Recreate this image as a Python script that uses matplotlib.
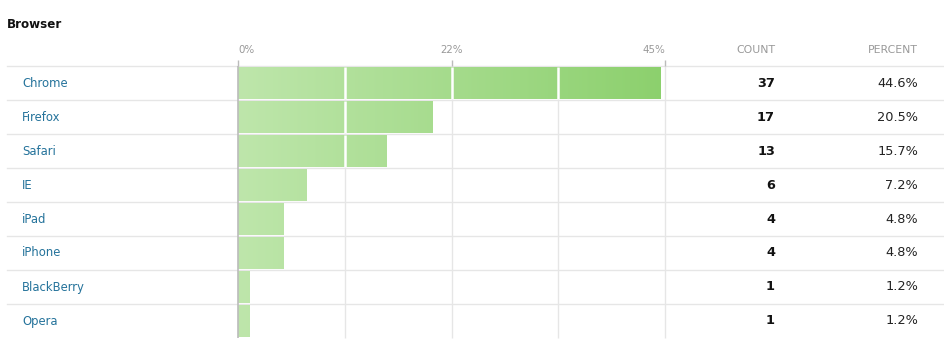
import numpy as np
import matplotlib.pyplot as plt
from matplotlib.colors import LinearSegmentedColormap
from matplotlib.transforms import blended_transform_factory

# data
browsers = ["Chrome", "Firefox", "Safari", "IE", "iPad", "iPhone", "BlackBerry", "Opera"]
counts = [37, 17, 13, 6, 4, 4, 1, 1]
tick_pos = [0, 22.5, 45]
tick_labels = ["0%", "22%", "45%"]
grid_pos = [11.25, 22.5, 33.75, 45]

total = sum(counts)
percents = [c / total * 100 for c in counts]

W, H = 944, 353
fig = plt.figure(figsize=(W / 100, H / 100), dpi=100)
plt.rcParams['font.family'] = ['DejaVu Sans']

# axes placed in pixel terms: x 238..665, y 66..338
ax = fig.add_axes([238 / W, (H - 338) / H, 427 / W, 272 / H])
ax.set_xlim(0, 45)
ax.set_ylim(len(browsers), 0)
ax.axis('off')

green = LinearSegmentedColormap.from_list('g', ['#bee6ab', '#8cd06d'])
grad = np.linspace(0, 1, 256).reshape(1, -1)

y = np.arange(len(browsers)) + 0.5
bars = ax.barh(y, percents, height=0.92, color='none', zorder=2)
for b in bars:
    im = ax.imshow(grad, cmap=green, aspect='auto', extent=[0, 45, len(browsers), 0], zorder=2)
    im.set_clip_path(b)

# white gaps where gridlines cross bars
for yi, p in zip(y, percents):
    xs = [g for g in grid_pos if g < p]
    ax.vlines(xs, yi - 0.46, yi + 0.46, colors='white', lw=1.8, zorder=3)

# gridlines
ax.vlines(grid_pos, 0, len(browsers), colors='#e6e6e6', lw=1, zorder=1, clip_on=False)
ax.vlines([0], 0, len(browsers), colors='#bbbbbb', lw=1.2, zorder=4, clip_on=False)
# top ticks
tick_h = 6 / 272 * len(browsers)
ax.vlines(tick_pos, -tick_h, 0, colors='#bbbbbb', lw=1, zorder=4, clip_on=False)

# row separators, full width
x0 = (7 - 238) / 427
x1 = (944 - 238) / 427
for r in range(len(browsers)):
    ax.axhline(r, x0, x1, color='#e6e6e6', lw=1, clip_on=False, zorder=1)

# tick labels
for p, lab, ha in zip(tick_pos, tick_labels, ['left', 'center', 'right']):
    ax.text(p, -0.48, lab, ha=ha, va='center', fontsize=7.4, color='#999999')

tr = blended_transform_factory(fig.transFigure, ax.transData)
fig.text(7 / W, 1 - 24 / H, "Browser", fontsize=8.6, fontweight='bold', color='#111111', va='center')
fig.text(775 / W, 1 - 50 / H, "COUNT", fontsize=7.8, color='#999999', ha='right', va='center')
fig.text(918 / W, 1 - 50 / H, "PERCENT", fontsize=7.8, color='#999999', ha='right', va='center')

for yi, name, c, p in zip(y, browsers, counts, percents):
    ax.text(22 / W, yi, name, transform=tr, fontsize=8.4, color='#25739b', va='center')
    ax.text(775 / W, yi, str(c), transform=tr, fontsize=9.3, fontweight='bold', color='#111111',
            ha='right', va='center')
    ax.text(918 / W, yi, f"{p:.1f}%", transform=tr, fontsize=9.3, color='#222222',
            ha='right', va='center')

fig.savefig('out.png', dpi=100)
